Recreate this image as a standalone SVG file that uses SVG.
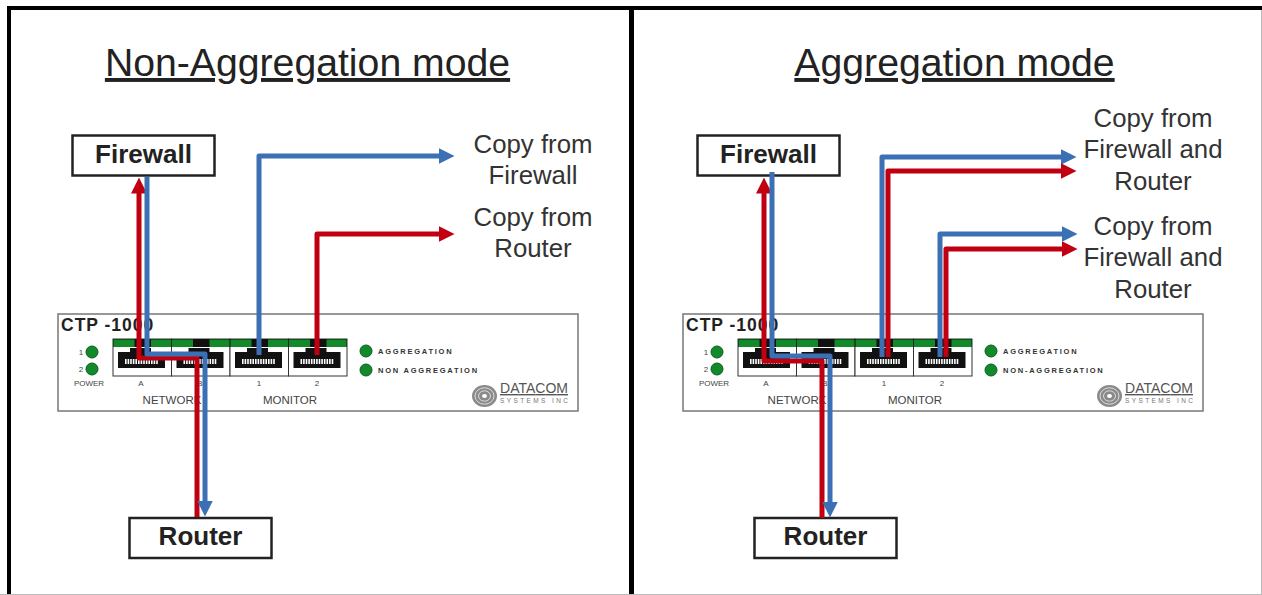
<svg xmlns="http://www.w3.org/2000/svg" width="1262" height="595" viewBox="0 0 1262 595">
<style>
text{font-family:"Liberation Sans",Arial,sans-serif;fill:#222}
.title{font-size:39.2px;text-anchor:middle;text-decoration:underline}
.copy{font-size:25.8px;text-anchor:middle;fill:#333}
.box{fill:#fff;stroke:#222;stroke-width:2.5}
.name{font-size:26px;font-weight:bold;text-anchor:middle}
.dev{fill:#fff;stroke:#777;stroke-width:1.5}
.ctp{font-size:17.5px;font-weight:bold;letter-spacing:1px}
.sm{font-size:8px;text-anchor:middle;fill:#444}
.lab{font-size:11.5px;text-anchor:middle;fill:#444}
.led{font-size:7.5px;font-weight:bold;letter-spacing:1.75px;fill:#333}
.b{fill:none;stroke:#3b70b4;stroke-width:5;stroke-linejoin:round}
.r{fill:none;stroke:#c00010;stroke-width:5;stroke-linejoin:round}
.ba{fill:#3b70b4}.ra{fill:#c00010}
</style>
<defs>
<g id="port">
<rect x="0" y="0" width="58.5" height="37" fill="#fff" stroke="#333" stroke-width="1"/>
<rect x="0" y="0" width="58.5" height="8" fill="#111"/>
<rect x="0.500" y="0.500" width="21" height="7.500" fill="#128a2a"/>
<rect x="38" y="0.500" width="20" height="7.500" fill="#128a2a"/>
<path d="M5 13H17V9H38V13H52V29H5Z" fill="#111"/>
<path d="M12 22.500H45" stroke="#fff" stroke-width="5" stroke-dasharray="1.6 1" fill="none"/>
</g>
<g id="led"><circle r="6" fill="#128a2a" stroke="#0b5e1c" stroke-width="1"/></g>
<g id="logo">
<ellipse cx="0" cy="0" rx="12.500" ry="11" fill="#8a8a8a"/>
<ellipse cx="0" cy="0" rx="9.500" ry="8.200" fill="none" stroke="#ddd" stroke-width="1"/>
<ellipse cx="0" cy="0" rx="6" ry="5.200" fill="none" stroke="#ddd" stroke-width="1"/>
<ellipse cx="0" cy="0" rx="2.500" ry="2" fill="#fff"/>
<text x="15.500" y="-3" font-size="14" textLength="68" style="fill:#555" text-decoration="underline">DATACOM</text>
<text x="15.500" y="7" font-size="6.500" textLength="68" style="fill:#777">SYSTEMS INC</text>
</g>
<marker id="ab" markerUnits="userSpaceOnUse" markerWidth="16" markerHeight="18" refX="0.500" refY="9" orient="auto"><path class="ba" d="M0 1L16 9L0 17Z"/></marker>
<marker id="ar" markerUnits="userSpaceOnUse" markerWidth="16" markerHeight="18" refX="0.500" refY="9" orient="auto"><path class="ra" d="M0 1L16 9L0 17Z"/></marker>
</defs>
<rect width="1262" height="595" fill="#fff"/>
<g id="frame">
<rect x="7" y="6" width="1255" height="4" fill="#000"/>
<rect x="7" y="6" width="4" height="589" fill="#000"/>
<rect x="629" y="6" width="5" height="589" fill="#000"/>
<rect x="0" y="594" width="1262" height="1" fill="#bbb"/>
<rect x="1261" y="10" width="1" height="585" fill="#bbb"/>
</g>
<text class="title" x="307.500" y="76">Non-Aggregation mode</text>
<text class="title" x="954.500" y="76">Aggregation mode</text>

<g id="device-left">
<rect class="dev" x="58" y="314" width="520" height="97"/>
<text class="ctp" x="61" y="331">CTP -1000</text>
<use href="#port" x="113" y="339"/><use href="#port" x="171.500" y="339"/><use href="#port" x="230" y="339"/><use href="#port" x="288.500" y="339"/>
<use href="#led" x="92" y="352"/><use href="#led" x="92" y="369"/>
<text class="sm" x="81" y="355">1</text><text class="sm" x="81" y="372">2</text><text class="sm" x="89" y="386">POWER</text>
<text class="sm" x="141" y="386">A</text><text class="sm" x="200" y="386">B</text><text class="sm" x="259" y="386">1</text><text class="sm" x="317" y="386">2</text>
<text class="lab" x="172" y="404">NETWORK</text><text class="lab" x="290" y="404">MONITOR</text>
<use href="#led" x="366" y="351"/><use href="#led" x="366" y="370"/>
<text class="led" x="378" y="354">AGGREGATION</text><text class="led" x="378" y="373">NON AGGREGATION</text>
<use href="#logo" x="484.500" y="396"/>
</g>
<g id="device-right">
<rect class="dev" x="683" y="314" width="520" height="97"/>
<text class="ctp" x="686" y="331">CTP -1000</text>
<use href="#port" x="738" y="339"/><use href="#port" x="796.500" y="339"/><use href="#port" x="855" y="339"/><use href="#port" x="913.500" y="339"/>
<use href="#led" x="717" y="352"/><use href="#led" x="717" y="369"/>
<text class="sm" x="706" y="355">1</text><text class="sm" x="706" y="372">2</text><text class="sm" x="714" y="386">POWER</text>
<text class="sm" x="766" y="386">A</text><text class="sm" x="825" y="386">B</text><text class="sm" x="884" y="386">1</text><text class="sm" x="942" y="386">2</text>
<text class="lab" x="797" y="404">NETWORK</text><text class="lab" x="915" y="404">MONITOR</text>
<use href="#led" x="991" y="351"/><use href="#led" x="991" y="370"/>
<text class="led" x="1003" y="354">AGGREGATION</text><text class="led" x="1003" y="373">NON-AGGREGATION</text>
<use href="#logo" x="1109.500" y="396"/>
</g>

<g id="firewall-left"><rect class="box" x="72.500" y="135.500" width="142" height="40"/><text class="name" x="143.500" y="163">Firewall</text></g>
<g id="firewall-right"><rect class="box" x="697.500" y="135.500" width="142" height="40"/><text class="name" x="768.500" y="163">Firewall</text></g>
<g id="router-left"><rect class="box" x="129.500" y="518" width="142" height="40"/><text class="name" x="200.500" y="545">Router</text></g>
<g id="router-right"><rect class="box" x="754.500" y="518" width="142" height="40"/><text class="name" x="825.500" y="545">Router</text></g>

<g id="connectors">
<path class="r" marker-end="url(#ar)" d="M197 517V358H139V193"/>
<path class="b" marker-end="url(#ab)" d="M147 177V354H205V501"/>
<path class="b" marker-end="url(#ab)" d="M259 355V156H439"/>
<path class="r" marker-end="url(#ar)" d="M317 355V234H439"/>
<path class="r" marker-end="url(#ar)" d="M822 518V361H764V193"/>
<path class="b" marker-end="url(#ab)" d="M772 172V356H830V502"/>
<path class="b" marker-end="url(#ab)" d="M882 357V157H1061"/>
<path class="r" marker-end="url(#ar)" d="M888 357V171H1061"/>
<path class="b" marker-end="url(#ab)" d="M940 357V234H1062"/>
<path class="r" marker-end="url(#ar)" d="M946 357V249H1062"/>
</g>

<g id="labels">
<text class="copy" x="533" y="153">Copy from</text><text class="copy" x="533" y="184">Firewall</text>
<text class="copy" x="533" y="226">Copy from</text><text class="copy" x="533" y="257">Router</text>
<text class="copy" x="1153" y="127">Copy from</text><text class="copy" x="1153" y="158">Firewall and</text><text class="copy" x="1153" y="190">Router</text>
<text class="copy" x="1153" y="235">Copy from</text><text class="copy" x="1153" y="266">Firewall and</text><text class="copy" x="1153" y="298">Router</text>
</g>
</svg>
